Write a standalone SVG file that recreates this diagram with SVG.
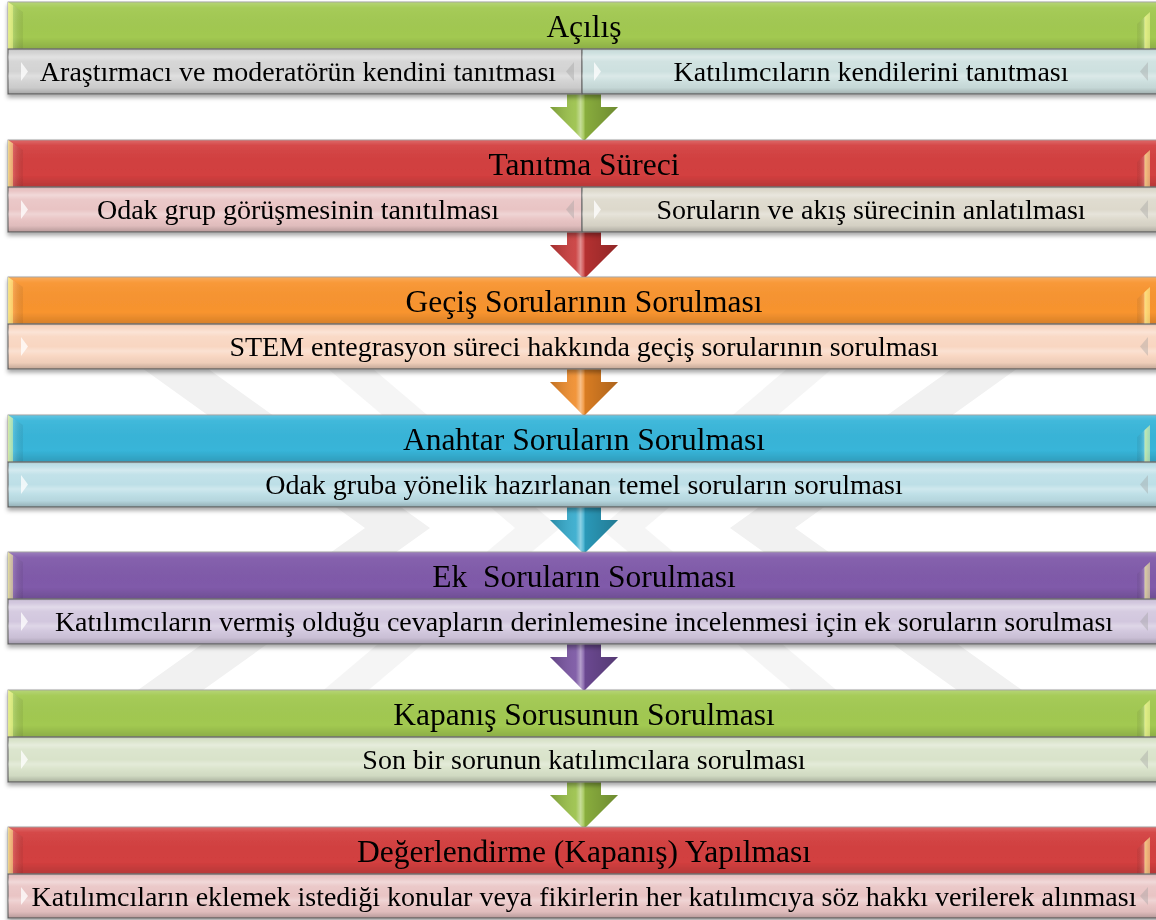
<svg xmlns="http://www.w3.org/2000/svg" xmlns:xlink="http://www.w3.org/1999/xlink" width="1156" height="920" viewBox="0 0 1156 920">
  <style>
    .h { font-family: "Liberation Serif", "Times New Roman", serif; font-size: 31.5px; text-anchor: middle; fill: #000; }
    .s { font-family: "Liberation Serif", "Times New Roman", serif; font-size: 28px; text-anchor: middle; fill: #000; }
    .sub { stroke: #6e6e6e; stroke-width: 1.2; }
    .hdr { stroke: #8a8a8a; stroke-width: 0.8; }
    .tri { fill: #ffffff; opacity: 0.75; }
    .triR { fill: #9a9a9a; opacity: 0.35; }
    .wm { fill: #f1f1f1; }
  </style>
  <defs>
    <filter id="shadow" x="-5%" y="-20%" width="110%" height="150%">
      <feDropShadow dx="0" dy="3" stdDeviation="2.2" flood-color="#000" flood-opacity="0.35"/>
    </filter>
    <linearGradient id="headGloss" x1="0" y1="0" x2="0" y2="1">
      <stop offset="0" stop-color="#fff" stop-opacity="0.22"/>
      <stop offset="0.12" stop-color="#fff" stop-opacity="0.05"/>
      <stop offset="0.75" stop-color="#000" stop-opacity="0"/>
      <stop offset="1" stop-color="#000" stop-opacity="0.14"/>
    </linearGradient>
    <linearGradient id="bevelL" x1="0" y1="0" x2="1" y2="0">
      <stop offset="0" stop-color="#ffffa0" stop-opacity="0.75"/>
      <stop offset="0.3" stop-color="#ffffa0" stop-opacity="0.55"/>
      <stop offset="0.35" stop-color="#fff" stop-opacity="0.15"/>
      <stop offset="1" stop-color="#000" stop-opacity="0.06"/>
    </linearGradient>
    <linearGradient id="bevelR" x1="0" y1="0" x2="1" y2="0">
      <stop offset="0" stop-color="#000" stop-opacity="0.05"/>
      <stop offset="0.55" stop-color="#fff" stop-opacity="0.2"/>
      <stop offset="0.6" stop-color="#ffffa0" stop-opacity="0.7"/>
      <stop offset="1" stop-color="#ffffa0" stop-opacity="0.5"/>
    </linearGradient>
    <linearGradient id="subStripes" x1="0" y1="0" x2="0" y2="1">
      <stop offset="0" stop-color="#000" stop-opacity="0.14"/>
      <stop offset="0.08" stop-color="#fff" stop-opacity="0"/>
      <stop offset="0.18" stop-color="#fff" stop-opacity="0.35"/>
      <stop offset="0.28" stop-color="#fff" stop-opacity="0.08"/>
      <stop offset="0.5" stop-color="#fff" stop-opacity="0"/>
      <stop offset="0.6" stop-color="#fff" stop-opacity="0.28"/>
      <stop offset="0.7" stop-color="#fff" stop-opacity="0.05"/>
      <stop offset="0.86" stop-color="#000" stop-opacity="0.04"/>
      <stop offset="1" stop-color="#000" stop-opacity="0.22"/>
    </linearGradient>
    <linearGradient id="arrowGloss" x1="0" y1="0" x2="1" y2="0">
      <stop offset="0" stop-color="#000" stop-opacity="0.2"/>
      <stop offset="0.38" stop-color="#fff" stop-opacity="0.1"/>
      <stop offset="0.45" stop-color="#fff" stop-opacity="0.45"/>
      <stop offset="0.5" stop-color="#fff" stop-opacity="0.15"/>
      <stop offset="0.52" stop-color="#000" stop-opacity="0.1"/>
      <stop offset="1" stop-color="#000" stop-opacity="0.28"/>
    </linearGradient>
    <!-- down chevron, origin at the top-centre of the shaft -->
    <path id="arrowShape" d="M-17,0 H17 V13 H34 L0,47 L-34,13 H-17 Z"/>
  </defs>

  <rect width="1156" height="920" fill="#ffffff"/>

  <!-- faint background emblem -->
  <g id="emblem">
    <polygon class="wm" points="110,345 175,345 430,528 175,710 110,710 365,528"/>
    <polygon class="wm" points="1050,345 985,345 730,528 985,710 1050,710 795,528"/>
    <polygon class="wm" points="300,345 345,345 560,528 345,710 300,710 515,528" opacity="0.7"/>
    <polygon class="wm" points="860,345 815,345 600,528 815,710 860,710 645,528" opacity="0.7"/>
  </g>

  <!-- connectors -->
  <g id="connectors">
    <g transform="translate(584,94)"><use href="#arrowShape" fill="#98c044"/><use href="#arrowShape" fill="url(#arrowGloss)"/></g>
    <g transform="translate(584,232)"><use href="#arrowShape" fill="#c83636"/><use href="#arrowShape" fill="url(#arrowGloss)"/></g>
    <g transform="translate(584,369)"><use href="#arrowShape" fill="#f08a26"/><use href="#arrowShape" fill="url(#arrowGloss)"/></g>
    <g transform="translate(584,507)"><use href="#arrowShape" fill="#2fa9cc"/><use href="#arrowShape" fill="url(#arrowGloss)"/></g>
    <g transform="translate(584,644)"><use href="#arrowShape" fill="#7650a0"/><use href="#arrowShape" fill="url(#arrowGloss)"/></g>
    <g transform="translate(584,782)"><use href="#arrowShape" fill="#98c044"/><use href="#arrowShape" fill="url(#arrowGloss)"/></g>
  </g>

  <!-- stage 1 -->
  <g id="stage-acilis" filter="url(#shadow)">
    <rect class="hdr" x="8" y="2" width="1152" height="47" fill="#a2c951"/>
    <rect x="8" y="2" width="1152" height="47" fill="url(#headGloss)"/>
    <path d="M8,2 L23,12 V49 H8 Z" fill="url(#bevelL)"/>
    <path d="M1150,12 L1137,24 V49 H1150 Z" fill="url(#bevelR)"/>
    <text class="h" x="584" y="37">Açılış</text>
    <rect class="sub" x="8" y="49" width="574" height="45" fill="#d3d3d3"/>
    <rect x="8" y="49" width="574" height="45" fill="url(#subStripes)"/>
    <rect class="sub" x="582" y="49" width="578" height="45" fill="#cde0df"/>
    <rect x="582" y="49" width="578" height="45" fill="url(#subStripes)"/>
    <polygon class="tri" points="21,62 28,71.5 21,81"/>
    <polygon class="triR" points="574,62 566,71.5 574,81"/>
    <polygon class="tri" points="594,62 601,71.5 594,81"/>
    <polygon class="triR" points="1148,62 1140,71.5 1148,81"/>
    <text class="s" x="298" y="81">Araştırmacı ve moderatörün kendini tanıtması</text>
    <text class="s" x="871" y="81">Katılımcıların kendilerini tanıtması</text>
  </g>

  <!-- stage 2 -->
  <g id="stage-tanitma" filter="url(#shadow)">
    <rect class="hdr" x="8" y="140" width="1152" height="47" fill="#d33f3f"/>
    <rect x="8" y="140" width="1152" height="47" fill="url(#headGloss)"/>
    <path d="M8,140 L23,150 V187 H8 Z" fill="url(#bevelL)"/>
    <path d="M1150,150 L1137,162 V187 H1150 Z" fill="url(#bevelR)"/>
    <text class="h" x="584" y="175">Tanıtma Süreci</text>
    <rect class="sub" x="8" y="187" width="574" height="45" fill="#e9c4c4"/>
    <rect x="8" y="187" width="574" height="45" fill="url(#subStripes)"/>
    <rect class="sub" x="582" y="187" width="578" height="45" fill="#ddd9cc"/>
    <rect x="582" y="187" width="578" height="45" fill="url(#subStripes)"/>
    <polygon class="tri" points="21,200 28,209.5 21,219"/>
    <polygon class="triR" points="574,200 566,209.5 574,219"/>
    <polygon class="tri" points="594,200 601,209.5 594,219"/>
    <polygon class="triR" points="1148,200 1140,209.5 1148,219"/>
    <text class="s" x="298" y="219">Odak grup görüşmesinin tanıtılması</text>
    <text class="s" x="871" y="219">Soruların ve akış sürecinin anlatılması</text>
  </g>

  <!-- stage 3 -->
  <g id="stage-gecis" filter="url(#shadow)">
    <rect class="hdr" x="8" y="277" width="1152" height="47" fill="#f8942f"/>
    <rect x="8" y="277" width="1152" height="47" fill="url(#headGloss)"/>
    <path d="M8,277 L23,287 V324 H8 Z" fill="url(#bevelL)"/>
    <path d="M1150,287 L1137,299 V324 H1150 Z" fill="url(#bevelR)"/>
    <text class="h" x="584" y="312">Geçiş Sorularının Sorulması</text>
    <rect class="sub" x="8" y="324" width="1152" height="45" fill="#f9d6c1"/>
    <rect x="8" y="324" width="1152" height="45" fill="url(#subStripes)"/>
    <polygon class="tri" points="21,337 28,346.5 21,356"/>
    <polygon class="triR" points="1148,337 1140,346.5 1148,356"/>
    <text class="s" x="584" y="356">STEM entegrasyon süreci hakkında geçiş sorularının sorulması</text>
  </g>

  <!-- stage 4 -->
  <g id="stage-anahtar" filter="url(#shadow)">
    <rect class="hdr" x="8" y="415" width="1152" height="47" fill="#37b5d9"/>
    <rect x="8" y="415" width="1152" height="47" fill="url(#headGloss)"/>
    <path d="M8,415 L23,425 V462 H8 Z" fill="url(#bevelL)"/>
    <path d="M1150,425 L1137,437 V462 H1150 Z" fill="url(#bevelR)"/>
    <text class="h" x="584" y="450">Anahtar Soruların Sorulması</text>
    <rect class="sub" x="8" y="462" width="1152" height="45" fill="#bddfe7"/>
    <rect x="8" y="462" width="1152" height="45" fill="url(#subStripes)"/>
    <polygon class="tri" points="21,475 28,484.5 21,494"/>
    <polygon class="triR" points="1148,475 1140,484.5 1148,494"/>
    <text class="s" x="584" y="494">Odak gruba yönelik hazırlanan temel soruların sorulması</text>
  </g>

  <!-- stage 5 -->
  <g id="stage-ek" filter="url(#shadow)">
    <rect class="hdr" x="8" y="552" width="1152" height="47" fill="#805aaa"/>
    <rect x="8" y="552" width="1152" height="47" fill="url(#headGloss)"/>
    <path d="M8,552 L23,562 V599 H8 Z" fill="url(#bevelL)"/>
    <path d="M1150,562 L1137,574 V599 H1150 Z" fill="url(#bevelR)"/>
    <text class="h" x="584" y="587" xml:space="preserve">Ek  Soruların Sorulması</text>
    <rect class="sub" x="8" y="599" width="1152" height="45" fill="#d2c7de"/>
    <rect x="8" y="599" width="1152" height="45" fill="url(#subStripes)"/>
    <polygon class="tri" points="21,612 28,621.5 21,631"/>
    <polygon class="triR" points="1148,612 1140,621.5 1148,631"/>
    <text class="s" x="584" y="631">Katılımcıların vermiş olduğu cevapların derinlemesine incelenmesi için ek soruların sorulması</text>
  </g>

  <!-- stage 6 -->
  <g id="stage-kapanis-sorusu" filter="url(#shadow)">
    <rect class="hdr" x="8" y="690" width="1152" height="47" fill="#a2c951"/>
    <rect x="8" y="690" width="1152" height="47" fill="url(#headGloss)"/>
    <path d="M8,690 L23,700 V737 H8 Z" fill="url(#bevelL)"/>
    <path d="M1150,700 L1137,712 V737 H1150 Z" fill="url(#bevelR)"/>
    <text class="h" x="584" y="725">Kapanış Sorusunun Sorulması</text>
    <rect class="sub" x="8" y="737" width="1152" height="45" fill="#d9e3ca"/>
    <rect x="8" y="737" width="1152" height="45" fill="url(#subStripes)"/>
    <polygon class="tri" points="21,750 28,759.5 21,769"/>
    <polygon class="triR" points="1148,750 1140,759.5 1148,769"/>
    <text class="s" x="584" y="769">Son bir sorunun katılımcılara sorulması</text>
  </g>

  <!-- stage 7 -->
  <g id="stage-degerlendirme" filter="url(#shadow)">
    <rect class="hdr" x="8" y="827" width="1152" height="47" fill="#d33f3f"/>
    <rect x="8" y="827" width="1152" height="47" fill="url(#headGloss)"/>
    <path d="M8,827 L23,837 V874 H8 Z" fill="url(#bevelL)"/>
    <path d="M1150,837 L1137,849 V874 H1150 Z" fill="url(#bevelR)"/>
    <text class="h" x="584" y="862">Değerlendirme (Kapanış) Yapılması</text>
    <rect class="sub" x="8" y="874" width="1152" height="44" fill="#e9c4c4"/>
    <rect x="8" y="874" width="1152" height="44" fill="url(#subStripes)"/>
    <polygon class="tri" points="21,887 28,896 21,905"/>
    <polygon class="triR" points="1148,887 1140,896 1148,905"/>
    <text class="s" x="584" y="906">Katılımcıların eklemek istediği konular veya fikirlerin her katılımcıya söz hakkı verilerek alınması</text>
  </g>
</svg>
